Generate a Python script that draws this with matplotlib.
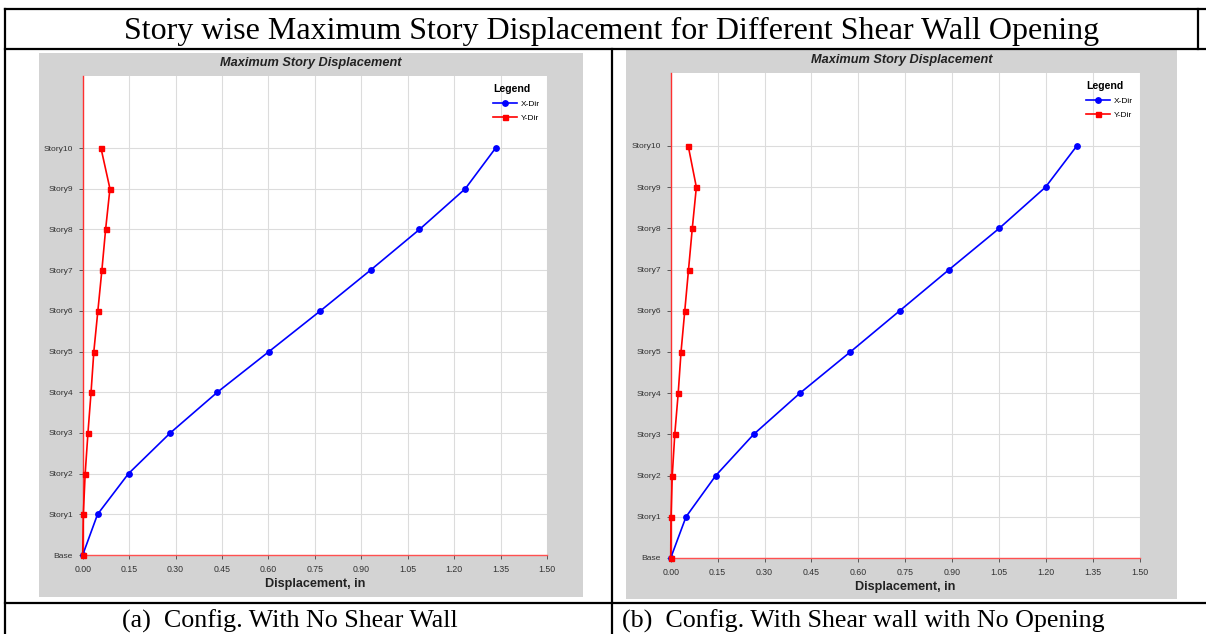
import matplotlib
matplotlib.use("Agg")
import matplotlib.pyplot as plt
from matplotlib.patches import Rectangle
from matplotlib.lines import Line2D

W, H = 1206, 634

stories = ["Base", "Story1", "Story2", "Story3", "Story4", "Story5",
           "Story6", "Story7", "Story8", "Story9", "Story10"]
x_ticks = [0.00, 0.15, 0.30, 0.45, 0.60, 0.75, 0.90, 1.05, 1.20, 1.35, 1.50]

# (a) no shear wall
a_xdir = [0.0, 0.048, 0.148, 0.283, 0.435, 0.602, 0.768, 0.930, 1.088, 1.236, 1.334]
a_ydir = [0.0, 0.002, 0.008, 0.017, 0.027, 0.036, 0.049, 0.062, 0.074, 0.088, 0.059]

# (b) shear wall with no opening
b_xdir = [0.0, 0.049, 0.144, 0.265, 0.413, 0.574, 0.732, 0.890, 1.050, 1.198, 1.298]
b_ydir = [0.0, 0.001, 0.005, 0.013, 0.024, 0.033, 0.045, 0.057, 0.069, 0.082, 0.056]

title = "Story wise Maximum Story Displacement for Different Shear Wall Opening"
captions = ["(a)  Config. With No Shear Wall", "(b)  Config. With Shear wall with No Opening"]


def fx(x):
    return x / W


def fy(y):
    return 1 - y / H


def hline(fig, x0, x1, y, lw=1.6):
    fig.add_artist(Line2D([fx(x0), fx(x1)], [fy(y), fy(y)], color="black", lw=lw))


def vline(fig, x, y0, y1, lw=1.6):
    fig.add_artist(Line2D([fx(x), fx(x)], [fy(y0), fy(y1)], color="black", lw=lw))


def panel(fig, box, gray, xdir, ydir, legend_xy):
    # gray background of the ETABS chart
    gx0, gy0, gx1, gy1 = gray
    fig.patches.append(Rectangle((fx(gx0), fy(gy1)), fx(gx1 - gx0), (gy1 - gy0) / H,
                                 transform=fig.transFigure, facecolor="#d3d3d3",
                                 edgecolor="none", zorder=-5))
    x0, y0, x1, y1 = box
    ax = fig.add_axes([fx(x0), fy(y1), fx(x1 - x0), (y1 - y0) / H])
    ax.set_zorder(2)
    ax.set_facecolor("white")
    levels = list(range(len(stories)))
    ax.plot(xdir, levels, color="#0000ff", lw=1.2, marker="o", ms=3.9, label="X-Dir",
            zorder=3, clip_on=False)
    ax.plot(ydir, levels, color="#ff0000", lw=1.2, marker="s", ms=3.6, label="Y-Dir",
            zorder=3, clip_on=False)
    ax.set_xlim(0, 1.5)
    ax.set_ylim(0, 11.77)
    ax.set_xticks(x_ticks)
    ax.set_xticklabels([f"{v:.2f}" for v in x_ticks], fontsize=6.3, color="#333333",
                       family="Liberation Sans")
    ax.set_yticks(levels)
    ax.set_yticklabels(stories, fontsize=6.1, color="#333333", family="Liberation Sans")
    ax.tick_params(length=3, width=0.6, color="#444444", pad=4)
    ax.grid(True, color="#dcdcdc", lw=0.8)
    ax.set_axisbelow(True)
    for s in ["top", "right"]:
        ax.spines[s].set_visible(False)
    ax.spines["left"].set_color("#ff3030")
    ax.spines["bottom"].set_color("#ff5050")
    ax.spines["left"].set_linewidth(1.0)
    ax.spines["bottom"].set_linewidth(1.0)

    fig.text(fx((gx0 + gx1) / 2), fy(gy0 + 10), "Maximum Story Displacement",
             ha="center", va="center", fontsize=9.2, fontweight="bold",
             fontstyle="italic", color="#222222", family="Liberation Sans")
    fig.text(fx((x0 + x1) / 2), fy(y1 + 29), "Displacement, in", ha="center",
             va="center", fontsize=9.1, fontweight="bold", color="#222222",
             family="Liberation Sans")

    leg = ax.legend(loc="upper left", bbox_to_anchor=(fx(legend_xy[0]), fy(legend_xy[1])),
                    bbox_transform=fig.transFigure, frameon=False, title="Legend",
                    prop={"family": "Liberation Sans", "size": 6}, handlelength=2.8,
                    handletextpad=0.5, labelspacing=0.75, borderpad=0)
    leg.get_title().set_fontweight("bold")
    leg.get_title().set_fontsize(7.6)
    leg.get_title().set_family("Liberation Sans")
    leg._legend_box.align = "left"
    return ax


fig = plt.figure(figsize=(W / 100, H / 100), dpi=100)

panel(fig, (82.7, 76, 547, 555), (39, 53, 583, 597), a_xdir, a_ydir, (489, 80))
panel(fig, (670.7, 73, 1140, 558), (626, 50, 1177, 599), b_xdir, b_ydir, (1082, 76.5))

# table lines
hline(fig, 5, W, 9)
hline(fig, 5, W, 48.5)
hline(fig, 5, W, 603)
vline(fig, 5, 9, H)
vline(fig, 1198, 9, 48.5)
vline(fig, 612, 48.5, H)

fig.text(fx(612), fy(31), title, ha="center", va="center", fontsize=23,
         family="Liberation Serif")
fig.text(fx(122), fy(628), captions[0], ha="left", va="baseline", fontsize=18.7,
         family="Liberation Serif")
fig.text(fx(622), fy(628), captions[1], ha="left", va="baseline", fontsize=18.7,
         family="Liberation Serif")

fig.savefig("out.png", dpi=100)
